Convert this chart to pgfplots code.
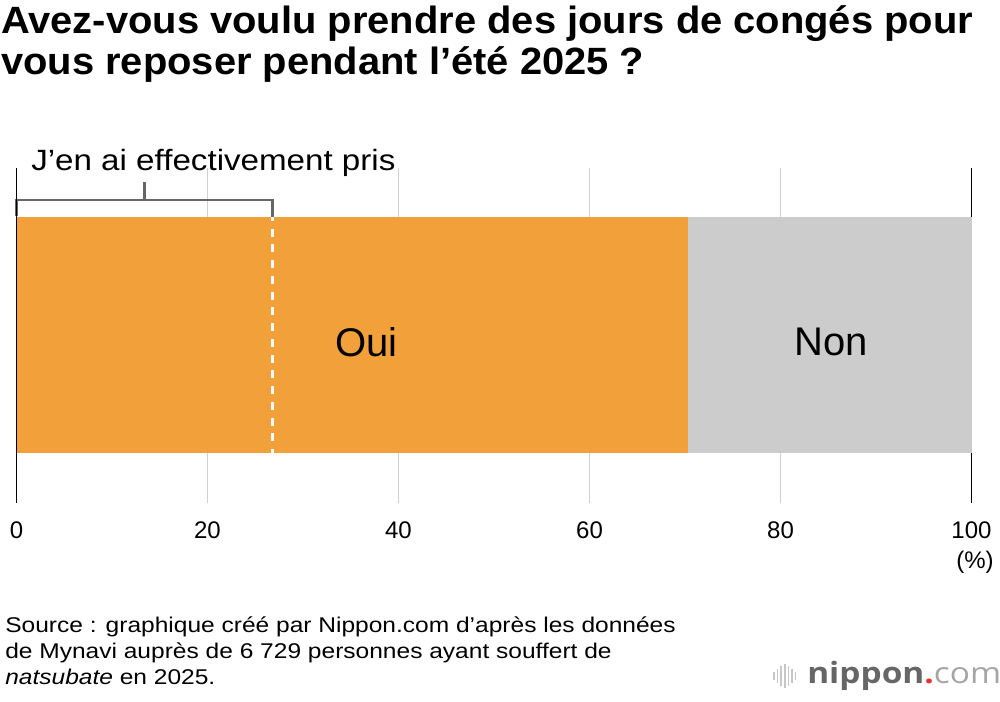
\documentclass[border=0pt]{standalone}
\usepackage{pgfplots}
\pgfplotsset{compat=1.18}
\usepackage{fontspec}
\setmainfont{Liberation Sans}
\newfontfamily\logofont{Open Sans}
\definecolor{barorange}{HTML}{F1A03A}
\definecolor{bargray}{HTML}{CCCCCC}
\definecolor{gridgray}{HTML}{D0D0D0}
\definecolor{brgray}{HTML}{666666}
\definecolor{logored}{HTML}{E8302F}
\begin{document}
\begin{tikzpicture}[x=0.75pt,y=0.75pt]
\path[use as bounding box] (0,0) rectangle (1000,702);
\begin{axis}[
  at={(12.375pt,149.25pt)}, anchor=south west,
  scale only axis, width=716.25pt, height=251.25pt,
  xmin=0, xmax=100, ymin=0, ymax=335,
  axis line style={draw=none},
  ytick=\empty,
  xtick={0,20,40,60,80,100},
  major tick length=0pt,
  xmajorgrids, grid style={gridgray, line width=1.3pt},
  /pgf/number format/assume math mode=true,
  xticklabel style={font=\fontsize{18}{18}\selectfont, inner sep=0pt, yshift=-13.5pt},
  xbar stacked, bar width=177pt,
  clip=false,
]
\addplot[fill=barorange, draw=none] coordinates {(70.3,168)};
\addplot[fill=bargray, draw=none] coordinates {(29.7,168)};
\draw[black, line width=1.3pt] (axis cs:0,0) -- (axis cs:0,335);
\draw[black, line width=1.3pt] (axis cs:100,0) -- (axis cs:100,335);
\coordinate (dtop) at (axis cs:26.8,286);
\coordinate (dbot) at (axis cs:26.8,50);
\draw[brgray, line width=2.2pt] (axis cs:0,287) -- (axis cs:0,303) -- (axis cs:26.8,303) -- (axis cs:26.8,286);
\draw[brgray, line width=2.2pt] (axis cs:13.4,303) -- (axis cs:13.4,321);
\end{axis}
\draw[white, line width=2.8pt, dash pattern=on 6pt off 5.8pt, dash phase=3pt] (dtop) -- (dbot);
% title
\node[anchor=base west, inner sep=0pt, font=\fontsize{28.5}{28.5}\selectfont\bfseries] at (1,702-34) {\addfontfeatures{FakeStretch=1.05}Avez-vous voulu prendre des jours de congés pour};
\node[anchor=base west, inner sep=0pt, font=\fontsize{28.5}{28.5}\selectfont\bfseries] at (1,702-75) {\addfontfeatures{FakeStretch=1.05}vous reposer pendant l’été 2025 ?};
% bracket label
\node[anchor=base west, inner sep=0pt, font=\fontsize{22}{22}\selectfont] at (31,702-171) {\addfontfeatures{FakeStretch=1.13}J’en ai effectivement pris};
% segment labels
\node[inner sep=0pt, font=\fontsize{30}{30}\selectfont] at (366.5,702-342) {Oui};
\node[inner sep=0pt, font=\fontsize{30}{30}\selectfont] at (831,702-342) {Non};
% unit
\node[inner sep=0pt, font=\fontsize{18}{18}\selectfont] at (975,702-562) {(\%)};
% source
\node[anchor=base west, inner sep=0pt, font=\fontsize{16}{16}\selectfont] at (5,702-633) {\addfontfeatures{FakeStretch=1.15}Source : graphique créé par Nippon.com d’après les données};
\node[anchor=base west, inner sep=0pt, font=\fontsize{16}{16}\selectfont] at (5,702-659) {\addfontfeatures{FakeStretch=1.15}de Mynavi auprès de 6 729 personnes ayant souffert de};
\node[anchor=base west, inner sep=0pt, font=\fontsize{16}{16}\selectfont] at (5,702-685) {\addfontfeatures{FakeStretch=1.15}\textit{natsubate} en 2025.};
% logo
\foreach \i/\h in {0/8,1/14,2/20,3/24,4/20,5/14,6/8}{
  \draw[gray!45, line width=1.3pt] (774+\i*3.6,702-676-\h/2) -- (774+\i*3.6,702-676+\h/2);
}
\node[anchor=base west, inner sep=0pt, font=\fontsize{22}{22}\selectfont\logofont] at (807,702-684) {\addfontfeatures{FakeStretch=1.14}\textcolor{brgray}{\bfseries nippon}\textcolor{logored}{\bfseries .}\textcolor{gray!70}{com}};
\end{tikzpicture}
\end{document}
